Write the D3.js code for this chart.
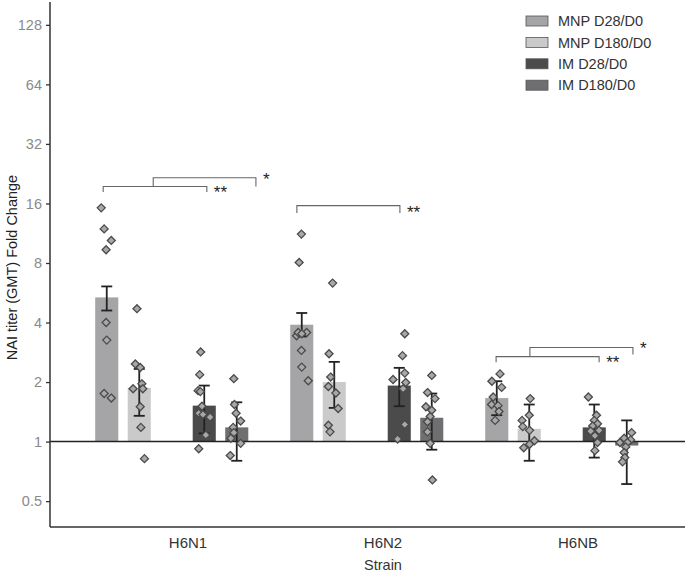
<!DOCTYPE html>
<html>
<head>
<meta charset="utf-8">
<script src="https://cdn.jsdelivr.net/npm/d3@7"></script>
<style>
  html, body { margin: 0; padding: 0; background: #fff; }
  svg { display: block; font-family: "Liberation Sans", Arial, Helvetica, sans-serif; }
</style>
</head>
<body>
<svg id="chart" width="685" height="574"></svg>
<script>
// ---------- data ----------
const strains = ["H6N1", "H6N2", "H6NB"];
const seriesNames = ["MNP D28/D0", "MNP D180/D0", "IM D28/D0", "IM D180/D0"];
const yTicks = [0.5, 1, 2, 4, 8, 16, 32, 64, 128];

// GMT fold change (bar heights) per strain
const mnpD28 = [5.36, 3.9, 1.66];
const mnpD180 = [1.87, 2.0, 1.16];
const imD28 = [1.52, 1.92, 1.18];
const imD180 = [1.18, 1.32, 0.955];

// error bar limits [low, high] per strain
const mnpD28Err = [[4.6, 6.09], [3.4, 4.47], [1.36, 2.02]];
const mnpD180Err = [[1.35, 2.33], [1.48, 2.53], [0.80, 1.54]];
const imD28Err = [[1.10, 1.92], [1.51, 2.36], [0.83, 1.54]];
const imD180Err = [[0.80, 1.58], [0.91, 1.75], [0.61, 1.28]];

// individual fold changes per strain
const mnpD28Pts = [
  [15.2, 11.9, 10.4, 9.33, 4.0, 3.26, 1.75, 1.66],
  [11.2, 8.05, 3.43, 3.56, 3.56, 3.51, 2.89, 2.38, 2.03],
  [2.20, 2.02, 1.88, 1.68, 1.54, 1.52, 1.42, 1.28]
];
const mnpD180Pts = [
  [4.7, 2.47, 2.37, 1.96, 1.85, 1.85, 1.5, 1.18, 0.82],
  [6.33, 2.78, 2.12, 1.90, 1.76, 1.47, 1.21, 1.12],
  [1.65, 1.36, 1.28, 1.19, 1.14, 1.01, 0.97, 0.93]
];
const imD28Pts = [
  [2.84, 2.18, 1.81, 1.79, 1.51, 1.39, 1.37, 1.33, 1.08, 0.92],
  [3.51, 2.72, 2.22, 2.06, 1.99, 1.85, 1.22, 1.03],
  [1.68, 1.36, 1.28, 1.23, 1.20, 1.14, 1.13, 1.07, 0.99, 0.90]
];
const imD180Pts = [
  [2.08, 1.54, 1.39, 1.27, 1.18, 1.11, 1.04, 0.98, 0.85],
  [2.16, 1.77, 1.65, 1.50, 1.44, 1.34, 1.26, 1.12, 0.98, 0.64],
  [1.11, 1.04, 1.02, 0.99, 0.99, 0.94, 0.88, 0.83, 0.79]
];
// horizontal jitter of the points (fraction of a dodge slot)
const mnpD28Jit = [
  [-0.17, -0.08, 0.14, -0.02, -0.02, 0, -0.08, 0.14],
  [-0.01, -0.08, -0.16, -0.11, 0.15, 0, -0.01, 0, 0.2],
  [0.1, -0.15, 0.15, -0.11, -0.16, 0.04, 0.07, -0.05]
];
const mnpD180Jit = [
  [-0.07, -0.12, 0.03, 0.08, -0.19, 0.11, 0.03, 0.05, 0.16],
  [-0.05, -0.16, -0.11, -0.18, 0.05, 0.12, -0.18, -0.13],
  [0.03, 0, -0.22, -0.2, 0.01, 0.16, 0.01, -0.17]
];
const imD28Jit = [
  [-0.11, -0.14, -0.19, -0.12, -0.07, -0.17, -0.04, 0.18, 0.05, -0.17],
  [0.17, 0.1, 0.17, -0.19, 0.2, 0.12, 0.17, -0.05],
  [-0.18, 0.07, 0, 0.1, -0.05, 0.15, -0.11, 0.02, 0.1, 0.02]
];
const imD180Jit = [
  [-0.09, -0.07, -0.02, 0.12, -0.11, -0.09, -0.18, 0.12, -0.2],
  [0, -0.13, 0.1, -0.18, 0, -0.05, -0.13, -0.13, -0.05, 0.02],
  [0.15, -0.08, 0.12, -0.21, 0.02, -0.03, -0.08, -0.06, -0.13]
];

// significance annotations (slot units within a strain band; fold-change heights)
const sigStrain = ["H6N1", "H6N1", "H6N2", "H6NB", "H6NB"];
const sigFrom = [0.39, 1.93, 0.35, 0.48, 1.52];
const sigTo = [3.58, 5.09, 3.52, 3.65, 4.69];
const sigLevel = [19.5, 21.6, 15.6, 2.69, 2.99];
const sigLeftEnd = [18.3, 19.5, 14.3, 2.52, 2.69];
const sigRightEnd = [18.3, 19.5, 14.3, 2.52, 2.76];
const sigLabel = ["**", "*", "**", "**", "*"];

// ---------- layout ----------
const colors = ["#a5a5a7", "#cacaca", "#4b4b4b", "#6f6f71"];
const slotIndex = [0, 1, 3, 4];
const series = [
  { name: seriesNames[0], vals: mnpD28, err: mnpD28Err, pts: mnpD28Pts, jit: mnpD28Jit },
  { name: seriesNames[1], vals: mnpD180, err: mnpD180Err, pts: mnpD180Pts, jit: mnpD180Jit },
  { name: seriesNames[2], vals: imD28, err: imD28Err, pts: imD28Pts, jit: imD28Jit },
  { name: seriesNames[3], vals: imD180, err: imD180Err, pts: imD180Pts, jit: imD180Jit }
];

const panel = { left: 50, right: 685, top: 2, bottom: 527 };
const svg = d3.select("#chart");

const x = d3.scaleBand().domain(strains).range([90.5, 675.5]).padding(0);
const xs = d3.scaleBand().domain(d3.range(6)).range([0, x.bandwidth()]).padding(0);
const barW = xs.bandwidth() * 0.71;
const y = d3.scaleLog().base(2).domain([0.37, 167]).range([panel.bottom, panel.top]);

function cx(strainIdx, sIdx) {
  return x(strains[strainIdx]) + xs(slotIndex[sIdx]) + xs.bandwidth() / 2;
}

// bars
series.forEach((s, si) => {
  svg.append("g").selectAll("rect")
    .data(s.vals)
    .join("rect")
    .attr("x", (d, i) => cx(i, si) - barW / 2)
    .attr("width", barW)
    .attr("y", d => Math.min(y(d), y(1)))
    .attr("height", d => Math.abs(y(d) - y(1)))
    .attr("fill", colors[si]);
});

// reference line at 1
svg.append("line")
  .attr("x1", panel.left).attr("x2", panel.right)
  .attr("y1", y(1)).attr("y2", y(1))
  .attr("stroke", "#222").attr("stroke-width", 1.5);

// error bars
const capW = 11;
series.forEach((s, si) => {
  const g = svg.append("g").attr("stroke", "#222").attr("stroke-width", 1.8).attr("fill", "none");
  s.err.forEach((e, i) => {
    const c = cx(i, si);
    g.append("line").attr("x1", c).attr("x2", c).attr("y1", y(e[0])).attr("y2", y(e[1]));
    g.append("line").attr("x1", c - capW / 2).attr("x2", c + capW / 2).attr("y1", y(e[0])).attr("y2", y(e[0]));
    g.append("line").attr("x1", c - capW / 2).attr("x2", c + capW / 2).attr("y1", y(e[1])).attr("y2", y(e[1]));
  });
});

// points (diamonds)
const dsz = 4;
const diamond = `M0,${-dsz}L${dsz},0L0,${dsz}L${-dsz},0Z`;
series.forEach((s, si) => {
  const g = svg.append("g");
  s.pts.forEach((arr, i) => {
    arr.forEach((v, k) => {
      g.append("path")
        .attr("d", diamond)
        .attr("transform", `translate(${cx(i, si) + s.jit[i][k] * xs.bandwidth()},${y(v)})`)
        .attr("fill", "#a8a8a8")
        .attr("stroke", "#4a4a4a")
        .attr("stroke-width", 1.3);
    });
  });
});

// significance brackets
sigStrain.forEach((st, j) => {
  const x0 = x(st) + sigFrom[j] * xs.bandwidth();
  const x1 = x(st) + sigTo[j] * xs.bandwidth();
  const yl = y(sigLevel[j]);
  svg.append("path")
    .attr("d", `M${x0},${y(sigLeftEnd[j])}V${yl}H${x1}V${y(sigRightEnd[j])}`)
    .attr("fill", "none").attr("stroke", "#666").attr("stroke-width", 1.1);
  const two = sigLabel[j].length > 1;
  svg.append("text")
    .attr("x", x1 + 7)
    .attr("y", (yl + y(sigRightEnd[j])) / 2 + (two ? 9 : 3))
    .attr("font-size", 17)
    .attr("fill", "#222")
    .text(sigLabel[j]);
});

// axes
const yAxis = d3.axisLeft(y).tickValues(yTicks).tickFormat(d3.format("")).tickSize(4).tickPadding(4);
const gy = svg.append("g").attr("transform", `translate(${panel.left},0)`).call(yAxis);
gy.select(".domain").attr("stroke", "#333").attr("stroke-width", 1.5).attr("d", `M0,${panel.top}V${panel.bottom}`);
gy.selectAll(".tick line").attr("stroke", "#333").attr("stroke-width", 1.3);
gy.selectAll(".tick text").attr("fill", "#8a8a8a").attr("font-size", 14.5)
  .attr("font-family", "'Liberation Sans', Arial, sans-serif");

const xAxis = d3.axisBottom(x).tickSize(0).tickPadding(10);
const gx = svg.append("g").attr("transform", `translate(0,${panel.bottom})`).call(xAxis);
gx.select(".domain").attr("stroke", "#333").attr("stroke-width", 1.5).attr("d", `M${panel.left},0H${panel.right}`);
gx.selectAll(".tick text").attr("fill", "#333").attr("font-size", 15)
  .attr("font-family", "'Liberation Sans', Arial, sans-serif");

// axis titles
svg.append("text")
  .attr("x", x("H6N2") + x.bandwidth() / 2).attr("y", 570)
  .attr("text-anchor", "middle").attr("font-size", 14.5).attr("fill", "#333")
  .text("Strain");
svg.append("text")
  .attr("transform", `translate(17,${(panel.top + panel.bottom) / 2 + 3}) rotate(-90)`)
  .attr("text-anchor", "middle").attr("font-size", 14.5).attr("fill", "#222")
  .text("NAI titer (GMT) Fold Change");

// legend
const lg = svg.append("g").attr("transform", "translate(526,16)");
seriesNames.forEach((n, i) => {
  const row = lg.append("g").attr("transform", `translate(0,${i * 21.4})`);
  row.append("rect").attr("width", 22).attr("height", 10)
    .attr("fill", colors[i]).attr("stroke", "#555").attr("stroke-width", 0.8);
  row.append("text").attr("x", 32).attr("y", 5).attr("dy", "0.36em")
    .attr("font-size", 14.5).attr("fill", "#333").text(n);
});
</script>
</body>
</html>
